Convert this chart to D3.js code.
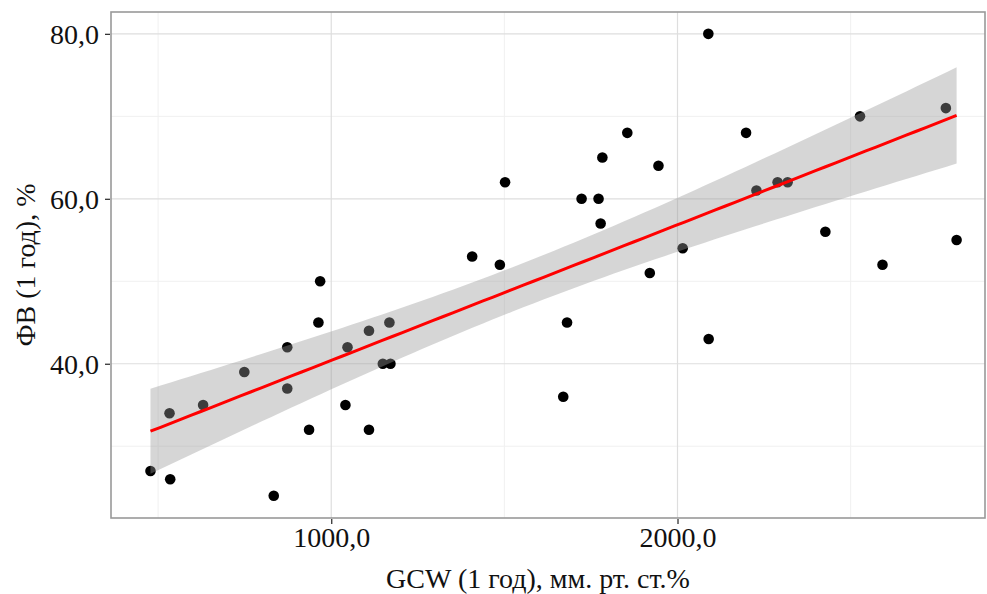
<!DOCTYPE html>
<html><head><meta charset="utf-8">
<script src="https://cdn.jsdelivr.net/npm/d3@7"></script>
<style>body{margin:0;background:#fff}svg{display:block}</style>
</head><body>
<script>
const gcw = [478,533,535,630,749,834,873,873,936,963,968,1041,1047,1109,1109,1149,1171,1168,
  2089,1855,1783,1945,1502,1723,1772,1778,1407,2015,
  1487,1920,1681,1670,2090,
  2198,2527,2775,2228,2289,2318,2427,2806,2592];
const fv = [27,34,26,35,39,24,42,37,32,45,50,35,42,44,32,40,40,45,
  80,68,65,64,62,60,60,57,53,54,
  52,51,45,36,43,
  68,70,71,61,62,62,56,55,52];
const xTicks = [1000,2000];
const xMinor = [500,1500,2500];
const yTicks = [40,60,80];
const yMinor = [30,50,70];
const tCrit = 2.021;

const W=987,H=594;
const m={l:111,t:12,r:2,b:76};
const svg=d3.select("body").append("svg").attr("width",W).attr("height",H);
const x=d3.scaleLinear().domain([364,2888]).range([m.l,W-m.r]);
const y=d3.scaleLinear().domain([21.3,82.65]).range([H-m.b,m.t]);
const fmt=d=>d.toFixed(1).replace(".",",");
const font="'Liberation Serif','DejaVu Serif',serif";

const g=svg.append("g");
g.selectAll(".vmin").data(xMinor).enter().append("line")
 .attr("x1",d=>x(d)).attr("x2",d=>x(d)).attr("y1",m.t).attr("y2",H-m.b)
 .attr("stroke","#f0f0f0").attr("stroke-width",1);
g.selectAll(".hmin").data(yMinor).enter().append("line")
 .attr("y1",d=>y(d)).attr("y2",d=>y(d)).attr("x1",m.l).attr("x2",W-m.r)
 .attr("stroke","#f0f0f0").attr("stroke-width",1);
g.selectAll(".vmaj").data(xTicks).enter().append("line")
 .attr("x1",d=>x(d)).attr("x2",d=>x(d)).attr("y1",m.t).attr("y2",H-m.b)
 .attr("stroke","#dedede").attr("stroke-width",1.2);
g.selectAll(".hmaj").data(yTicks).enter().append("line")
 .attr("y1",d=>y(d)).attr("y2",d=>y(d)).attr("x1",m.l).attr("x2",W-m.r)
 .attr("stroke","#dedede").attr("stroke-width",1.2);

g.selectAll("circle").data(gcw.map((v,i)=>[v,fv[i]])).enter().append("circle")
 .attr("cx",d=>x(d[0])).attr("cy",d=>y(d[1])).attr("r",5.3).attr("fill","#000");

const n=gcw.length;
const mx=d3.mean(gcw), my=d3.mean(fv);
let sxx=0,sxy=0;
gcw.forEach((v,i)=>{sxx+=(v-mx)**2;sxy+=(v-mx)*(fv[i]-my);});
const b=sxy/sxx,a=my-b*mx;
let sse=0; gcw.forEach((v,i)=>{sse+=(fv[i]-(a+b*v))**2;});
const s=Math.sqrt(sse/(n-2));
const [x0,x1]=d3.extent(gcw);
const grid=d3.range(0,81).map(i=>x0+(x1-x0)*i/80);
const band=grid.map(v=>{const f=a+b*v;const se=s*Math.sqrt(1/n+(v-mx)**2/sxx);return {v,lo:f-tCrit*se,hi:f+tCrit*se,f};});
g.append("path").datum(band)
 .attr("d",d3.area().x(d=>x(d.v)).y0(d=>y(d.lo)).y1(d=>y(d.hi)))
 .attr("fill","#999999").attr("fill-opacity",0.4);
g.append("path").datum(band)
 .attr("d",d3.line().x(d=>x(d.v)).y(d=>y(d.f)))
 .attr("fill","none").attr("stroke","#ff0000").attr("stroke-width",3);

svg.append("rect").attr("x",m.l).attr("y",m.t).attr("width",W-m.r-m.l).attr("height",H-m.b-m.t)
 .attr("fill","none").attr("stroke","#999").attr("stroke-width",1.6);

const xa=svg.append("g").attr("transform",`translate(0,${H-m.b+1})`)
 .call(d3.axisBottom(x).tickValues(xTicks).tickFormat(fmt).tickSize(5).tickPadding(3));
const ya=svg.append("g").attr("transform",`translate(${m.l-1},0)`)
 .call(d3.axisLeft(y).tickValues(yTicks).tickFormat(fmt).tickSize(5).tickPadding(6));
[xa,ya].forEach(ax=>{
  ax.select(".domain").remove();
  ax.selectAll(".tick line").attr("stroke","#333").attr("stroke-width",1.3);
  ax.selectAll(".tick text").attr("fill","#111").style("font-family",font).style("font-size","28px");
});
ya.selectAll(".tick text").attr("dy","0.34em");

svg.append("text").attr("x",(m.l+W-m.r)/2-10).attr("y",588).attr("text-anchor","middle")
 .style("font-family",font).style("font-size","28px").attr("fill","#111")
 .text("GCW (1 год), мм. рт. ст.%");
svg.append("text").attr("transform",`translate(35,${(m.t+H-m.b)/2}) rotate(-90)`).attr("text-anchor","middle")
 .style("font-family",font).style("font-size","28px").attr("fill","#111")
 .text("ФВ (1 год), %");
</script>
</body></html>
